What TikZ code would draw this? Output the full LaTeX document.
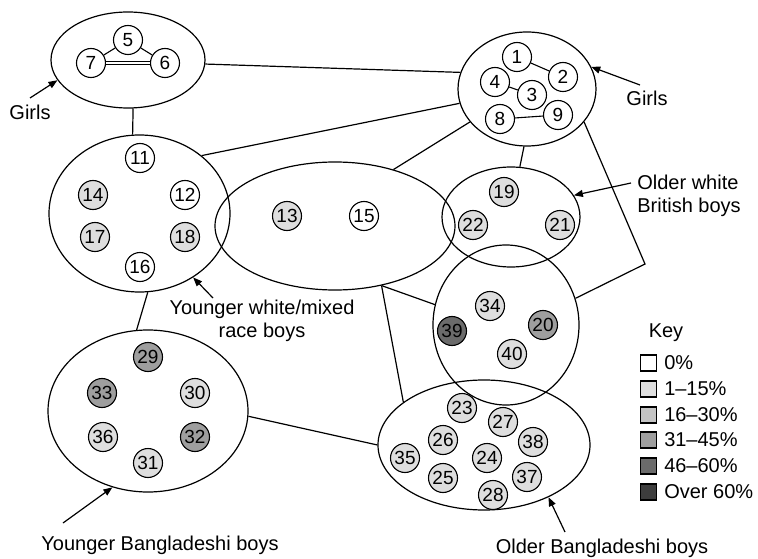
\documentclass[tikz,border=0pt]{standalone}
\usepackage{fontspec}
\setmainfont{Liberation Sans}
\usetikzlibrary{shapes.geometric,arrows.meta}
\definecolor{k0}{gray}{1}
\definecolor{k1}{gray}{0.87}
\definecolor{k2}{gray}{0.77}
\definecolor{k3}{gray}{0.62}
\definecolor{k4}{gray}{0.42}
\definecolor{k5}{gray}{0.24}
\begin{document}
\begin{tikzpicture}[x=1pt,y=-1pt,
  grp/.style={draw, ellipse, line width=1.2pt, inner sep=0pt},
  pn/.style={draw, circle, line width=1.1pt, minimum size=29pt, inner sep=0pt, font=\fontsize{19}{19}\selectfont},
  tie/.style={line width=1.1pt},
  conn/.style={line width=1.2pt},
  arr/.style={line width=1.2pt, -{Triangle[length=9pt,width=7pt]}},
  lbl/.style={font=\fontsize{20}{23}\selectfont, inner sep=1pt},
  keysq/.style={draw, line width=1.1pt, minimum size=16pt, inner sep=0pt},
  keytxt/.style={font=\fontsize{20}{20}\selectfont, inner sep=1pt, anchor=west, xshift=6pt}
]
\useasboundingbox (0,0) rectangle (758,559);

% groups
\node[grp, minimum width=154pt, minimum height=96pt] (A) at (128,60) {};
\node[grp, minimum width=138pt, minimum height=114pt] (B) at (527,89) {};
\node[grp, minimum width=181pt, minimum height=157pt] (C) at (139.5,213.5) {};
\node[grp, minimum width=240pt, minimum height=128pt] (D) at (335,226) {};
\node[grp, minimum width=138pt, minimum height=100pt] (E) at (511,217) {};
\node[grp, minimum width=146pt, minimum height=160pt] (F) at (506,325) {};
\node[grp, minimum width=212pt, minimum height=130pt] (G) at (484,445) {};
\node[grp, minimum width=200pt, minimum height=162pt] (H) at (148,411) {};

% connectors between groups
\coordinate (bend) at (645,264);
\draw[conn] (A.-3) -- (B.166);
\draw[conn] (A.-84) -- (C.95);
\draw[conn] (C.43) -- (B.192);
\draw[conn] (D.44) -- (B.210);
\draw[conn] (B.267) -- (E.80);
\draw[conn] (B.-30) -- (bend) -- (F.21.5);
\draw[conn] (C.-84.5) -- (H.98);
\draw[conn] (H.-3.4) -- (G.180);
\draw[conn] (D.-52) -- (F.164);
\draw[conn] (D.-52) -- (G.152);

% persons
\node[pn, fill=k0] (p5) at (128,40) {5};
\node[pn, fill=k0] (p7) at (91,63) {7};
\node[pn, fill=k0] (p6) at (165,63) {6};
\node[pn, fill=k0] (p1) at (517,57) {1};
\node[pn, fill=k0] (p2) at (563,77) {2};
\node[pn, fill=k0] (p4) at (495,82) {4};
\node[pn, fill=k0] (p3) at (532,95) {3};
\node[pn, fill=k0] (p8) at (500,119) {8};
\node[pn, fill=k0] (p9) at (558,115) {9};

\node[pn, fill=k0] (p11) at (140,158) {11};
\node[pn, fill=k1] (p14) at (93,195) {14};
\node[pn, fill=k0] (p12) at (185,195) {12};
\node[pn, fill=k1] (p17) at (95,237) {17};
\node[pn, fill=k1] (p18) at (185,237) {18};
\node[pn, fill=k0] (p16) at (140,267) {16};

\node[pn, fill=k1] (p13) at (287,216) {13};
\node[pn, fill=k0] (p15) at (364,216) {15};

\node[pn, fill=k1] (p19) at (504,192) {19};
\node[pn, fill=k1] (p22) at (473,225) {22};
\node[pn, fill=k1] (p21) at (560,225) {21};

\node[pn, fill=k1] (p34) at (490,306) {34};
\node[pn, fill=k4] (p39) at (452,331) {39};
\node[pn, fill=k3] (p20) at (543,325) {20};
\node[pn, fill=k1] (p40) at (512,354) {40};

\node[pn, fill=k1] (p23) at (462,408) {23};
\node[pn, fill=k1] (p27) at (503,422) {27};
\node[pn, fill=k1] (p26) at (443,440) {26};
\node[pn, fill=k1] (p38) at (533,442) {38};
\node[pn, fill=k1] (p35) at (405,458) {35};
\node[pn, fill=k1] (p24) at (487,458) {24};
\node[pn, fill=k1] (p25) at (443,478) {25};
\node[pn, fill=k1] (p37) at (527,477) {37};
\node[pn, fill=k1] (p28) at (493,495) {28};

\node[pn, fill=k3] (p29) at (148,357) {29};
\node[pn, fill=k3] (p33) at (102,393) {33};
\node[pn, fill=k1] (p30) at (195,393) {30};
\node[pn, fill=k1] (p36) at (103,437) {36};
\node[pn, fill=k3] (p32) at (195,437) {32};
\node[pn, fill=k1] (p31) at (148,463) {31};

% ties
\draw[tie] (p5) -- (p7);
\draw[tie] (p5) -- (p6);
\draw[line width=0.8pt, double, double distance=1.6pt] (p7) -- (p6);
\draw[tie] (p1) -- (p2);
\draw[tie] (p4) -- (p3);
\draw[tie] (p8) -- (p9);

% labels
\node[lbl] (gl) at (30,112) {Girls};
\node[lbl] (gr) at (647,98) {Girls};
\node[lbl, align=left] (ew) at (689,196) {Older white\\British boys};
\node[lbl, align=center] (cw) at (262,321) {Younger white/mixed\\race boys};
\node[lbl] (hb) at (160,545) {Younger Bangladeshi boys};
\node[lbl] (gb) at (602,548) {Older Bangladeshi boys};

\coordinate (tgl) at (30,98);
\coordinate (tgr) at (640,85);
\coordinate (tew) at (631,183);
\coordinate (tcw) at (213,298);
\coordinate (thb) at (63,523);
\coordinate (tgb) at (565,532);
\draw[arr] (tgl) -- (A.196);
\draw[arr] (tgr) -- (B.19);
\draw[arr] (tew) -- (E.19);
\draw[arr] (tcw) -- (C.-50);
\draw[arr] (thb) -- (H.-115);
\draw[arr] (tgb) -- (G.-39);

% key
\node[lbl] (key) at (666,333) {Key};
\node[keysq, fill=k0] (q0) at (648.5,363) {};
\node[keysq, fill=k1] (q1) at (648.5,389) {};
\node[keysq, fill=k2] (q2) at (648.5,415) {};
\node[keysq, fill=k3] (q3) at (648.5,440) {};
\node[keysq, fill=k4] (q4) at (648.5,466) {};
\node[keysq, fill=k5] (q5) at (648.5,492) {};
\node[keytxt] (t0) at (q0.east) {0\%};
\node[keytxt] (t1) at (q1.east) {1–15\%};
\node[keytxt] (t2) at (q2.east) {16–30\%};
\node[keytxt] (t3) at (q3.east) {31–45\%};
\node[keytxt] (t4) at (q4.east) {46–60\%};
\node[keytxt] (t5) at (q5.east) {Over 60\%};
\end{tikzpicture}
\end{document}
